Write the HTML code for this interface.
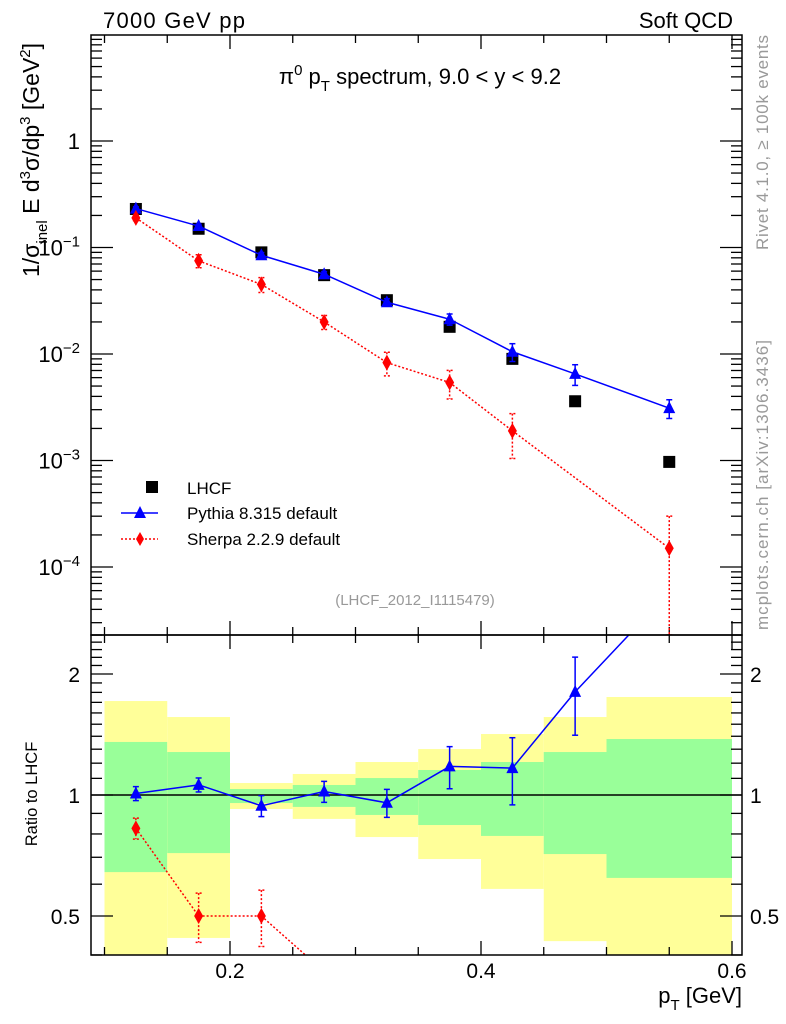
<!DOCTYPE html>
<html><head><meta charset="utf-8"><style>
html,body{margin:0;padding:0;background:#fff;overflow:hidden;width:786px;height:1024px;}
svg{display:block;font-family:"Liberation Sans",sans-serif;}
</style></head><body>
<svg id="chart" width="786" height="1024" viewBox="0 0 786 1024" xmlns="http://www.w3.org/2000/svg">
<defs>
<clipPath id="cm"><rect x="91" y="35" width="651" height="600"/></clipPath>
<clipPath id="cr"><rect x="91" y="635" width="651" height="320"/></clipPath>
</defs>
<g id="bands" clip-path="url(#cr)"></g>
<g id="ticks"></g>
<g id="marks"></g>
<rect x="91" y="35" width="651" height="600" fill="none" stroke="#000" stroke-width="1.5"/>
<rect x="91" y="635" width="651" height="320" fill="none" stroke="#000" stroke-width="1.5"/>
<text x="103" y="28" font-size="22" textLength="142">7000 GeV pp</text>
<text x="733" y="28" font-size="22" text-anchor="end">Soft QCD</text>
<text x="420" y="84" font-size="22" text-anchor="middle">π<tspan dy="-9" font-size="15">0</tspan><tspan dy="9"> p</tspan><tspan dy="7" font-size="15">T</tspan><tspan dy="-7"> spectrum, 9.0 &lt; y &lt; 9.2</tspan></text>
<text x="415" y="605" font-size="15" fill="#999" text-anchor="middle">(LHCF_2012_I1115479)</text>
<text transform="translate(768,35) rotate(-90)" font-size="17" fill="#999" text-anchor="end" textLength="215">Rivet 4.1.0, ≥ 100k events</text>
<text transform="translate(768,630) rotate(-90)" font-size="17" fill="#999" text-anchor="start" textLength="290">mcplots.cern.ch [arXiv:1306.3436]</text>
<text transform="translate(39,160) rotate(-90)" font-size="23" text-anchor="middle">1/σ<tspan dy="8" font-size="15">inel</tspan><tspan dy="-8"> E d</tspan><tspan dy="-9" font-size="15">3</tspan><tspan dy="9">σ/dp</tspan><tspan dy="-9" font-size="15">3</tspan><tspan dy="9"> [GeV</tspan><tspan dy="-9" font-size="15">2</tspan><tspan dy="9">]</tspan></text>
<text transform="translate(37,794) rotate(-90)" font-size="16.5" text-anchor="middle">Ratio to LHCF</text>
<text x="742" y="1003" font-size="22" text-anchor="end">p<tspan dy="7" font-size="15">T</tspan><tspan dy="-7"> [GeV]</tspan></text>
<g>
<rect x="146" y="481" width="12" height="12" fill="#000"/>
<text x="187" y="494" font-size="17">LHCF</text>
<line x1="121" y1="513" x2="158" y2="513" stroke="#00f" stroke-width="1.5"/>
<polygon points="140,506 146,518 134,518" fill="#00f"/>
<text x="187" y="519" font-size="17">Pythia 8.315 default</text>
<line x1="121" y1="539" x2="158" y2="539" stroke="#f00" stroke-width="1.5" stroke-dasharray="2,2"/>
<polygon points="140,532 144,539 140,546 136,539" fill="#f00"/>
<text x="187" y="545" font-size="17">Sherpa 2.2.9 default</text>
</g>
</svg>
<script>
const binLo = [0.10,0.15,0.20,0.25,0.30,0.35,0.40,0.45,0.50];
const binHi = [0.15,0.20,0.25,0.30,0.35,0.40,0.45,0.50,0.60];
const xCenters = [0.125,0.175,0.225,0.275,0.325,0.375,0.425,0.475,0.55];
const lhcf = [0.23,0.15,0.09,0.055,0.032,0.018,0.009,0.0036,0.00097];
const pythia = [0.232,0.159,0.0846,0.0561,0.0306,0.0212,0.0105,0.0065,0.0031];
const pythiaRelErr = [0.04,0.04,0.06,0.06,0.08,0.12,0.19,0.22,0.2];
const sherpa = [0.19,0.075,0.045,0.020,0.0083,0.0054,0.0019,null,0.00015];
const sherpaRelErr = [0.06,0.14,0.16,0.15,0.25,0.3,0.45,0,1.0];
const yellowHi = [1.713,1.563,1.071,1.128,1.208,1.301,1.418,1.563,1.753];
const greenHi = [1.355,1.279,1.035,1.059,1.102,1.154,1.208,1.279,1.378];
const greenLo = [0.643,0.717,0.955,0.934,0.892,0.842,0.791,0.713,0.622];
const yellowLo = [0.30,0.441,0.923,0.872,0.786,0.693,0.584,0.433,0.30];
const xTickLabels = ["0.2","0.4","0.6"];
const mainTickExps = [0,-1,-2,-3,-4];
const ratioTickLabels = ["0.5","1","2"];

const NS="http://www.w3.org/2000/svg";
const X = v => 230 + (v-0.2)*1255;
const Y = v => 141 - Math.log10(v)*106.5;
const R = v => 795 - Math.log10(v)*402;
const clampM = y => Math.max(35, Math.min(635, y));
const clampR = y => Math.max(635, Math.min(955, y));
function mk(tag, attrs, parent){const e=document.createElementNS(NS,tag);for(const k in attrs)e.setAttribute(k,attrs[k]);parent.appendChild(e);return e;}
// clip a polyline (array of [x,y]) to a y range, returning list of segments
function clipLine(pts, ymin, ymax){
  const segs=[];
  for(let i=0;i<pts.length-1;i++){
    let [x1,y1]=pts[i],[x2,y2]=pts[i+1];
    if((y1<ymin&&y2<ymin)||(y1>ymax&&y2>ymax))continue;
    const at=(yy)=>x1+(x2-x1)*(yy-y1)/(y2-y1);
    if(y1<ymin){x1=at(ymin);y1=ymin;} else if(y1>ymax){x1=at(ymax);y1=ymax;}
    const ox2=x2, oy2=y2; const [sx,sy]=pts[i];
    const at2=(yy)=>sx+(ox2-sx)*(yy-sy)/(oy2-sy);
    if(y2<ymin){x2=at2(ymin);y2=ymin;} else if(y2>ymax){x2=at2(ymax);y2=ymax;}
    segs.push([x1,y1,x2,y2]);
  }
  return segs;
}
function drawLine(g, pts, ymin, ymax, color, dash, name){
  const segs=clipLine(pts,ymin,ymax);
  const d=segs.map(s=>`M${s[0]},${s[1]}L${s[2]},${s[3]}`).join('');
  const a={d:d,fill:'none',stroke:color,'stroke-width':1.5};
  if(dash)a['stroke-dasharray']='2,2';
  const p=mk('path',a,g);
  
  
}
const bands=document.getElementById('bands'), ticks=document.getElementById('ticks'), marks=document.getElementById('marks');

for(let i=0;i<binLo.length;i++){
  const yt=R(yellowHi[i]), yb=clampR(R(yellowLo[i]));
  const y1=mk('rect',{x:X(binLo[i]),y:yt,width:X(binHi[i])-X(binLo[i]),height:yb-yt,fill:'#ffff99'},bands);
  
  
  const g1=mk('rect',{x:X(binLo[i]),y:R(greenHi[i]),width:X(binHi[i])-X(binLo[i]),height:R(greenLo[i])-R(greenHi[i]),fill:'#99ff99'},bands);
  
  
}
mk('line',{x1:91,x2:742,y1:R(1),y2:R(1),stroke:'#000','stroke-width':1.5},bands);

for(let v=0.1;v<=0.6001;v+=0.05){
  const major=Math.abs(v*10-Math.round(v*10))<1e-6 && Math.round(v*10)%2===0;
  const L=major?14:8;
  [[35,1],[635,-1],[635,1],[955,-1]].forEach(([y0,d])=>mk('line',{x1:X(v),x2:X(v),y1:y0,y2:y0+d*L,stroke:'#000','stroke-width':1.3},ticks));
}
xTickLabels.forEach(t=>{const e=mk('text',{x:X(parseFloat(t)),y:978,'font-size':21,'text-anchor':'middle'},ticks);e.textContent=t;
  
  });
for(let e=-5;e<=1;e++){for(let m=1;m<=9;m++){const v=m*Math.pow(10,e);const y=Y(v);if(y<35||y>635)continue;const L=m===1?22:11;
  mk('line',{x1:91,x2:91+L,y1:y,y2:y,stroke:'#000','stroke-width':1.3},ticks);mk('line',{x1:742,x2:742-L,y1:y,y2:y,stroke:'#000','stroke-width':1.3},ticks);}}
mainTickExps.forEach(ex=>{const t=mk('text',{x:80,y:Y(Math.pow(10,ex))+8,'font-size':22,'text-anchor':'end'},ticks);
  
  
  if(ex===0){t.textContent='1';}else{t.textContent='10';const s=document.createElementNS(NS,'tspan');s.setAttribute('dy','-9');s.setAttribute('font-size','15');s.textContent='−'+(-ex);t.appendChild(s);}});
for(let k=4;k<=25;k++){const v=k/10;const y=R(v);if(y<635||y>955)continue;const major=(k===5||k===10||k===20);const L=major?22:11;
  mk('line',{x1:91,x2:91+L,y1:y,y2:y,stroke:'#000','stroke-width':1.3},ticks);mk('line',{x1:742,x2:742-L,y1:y,y2:y,stroke:'#000','stroke-width':1.3},ticks);}
ratioTickLabels.forEach(t=>{[80,750].forEach((x,j)=>{const e=mk('text',{x:x,y:R(parseFloat(t))+8,'font-size':21,'text-anchor':j?'start':'end'},ticks);e.textContent=t;
  
  });});

const gm=mk('g',{'clip-path':'url(#cm)'},marks);
const gr=mk('g',{'clip-path':'url(#cr)'},marks);
function tri(g,x,y,c){return mk('polygon',{points:`${x},${y-7} ${x+6},${y+5} ${x-6},${y+5}`,fill:c},g);}
function dia(g,x,y,c){return mk('polygon',{points:`${x},${y-8} ${x+4.5},${y} ${x},${y+8} ${x-4.5},${y}`,fill:c},g);}
function errbar(g,x,y1,y2,c,dash,lo,hi){
  const yt=Math.max(lo,Math.min(hi,y1)), yb=Math.max(lo,Math.min(hi,y2));
  const a={x1:x,x2:x,y1:yt,y2:yb,stroke:c,'stroke-width':1.5};if(dash)a['stroke-dasharray']='2,2';mk('line',a,g);
  [y1,y2].forEach(y=>{if(y<lo||y>hi)return;const b={x1:x-3,x2:x+3,y1:y,y2:y,stroke:c,'stroke-width':1.5};if(dash)b['stroke-dasharray']='2,2';mk('line',b,g);});}

lhcf.forEach((v,i)=>{const r=mk('rect',{x:X(xCenters[i])-6,y:Y(v)-6,width:12,height:12,fill:'#000'},gm);
  
  });
drawLine(gm, pythia.map((v,i)=>[X(xCenters[i]),Y(v)]), 35, 635, '#00f', false, 'pythia-line');
pythia.forEach((v,i)=>{errbar(gm,X(xCenters[i]),Y(v*(1+pythiaRelErr[i])),Y(v*(1-pythiaRelErr[i])),'#00f',false,35,635);const p=tri(gm,X(xCenters[i]),Y(v),'#00f');
  
  });
const sIdx=sherpa.map((v,i)=>i).filter(i=>sherpa[i]!==null);
drawLine(gm, sIdx.map(i=>[X(xCenters[i]),Y(sherpa[i])]), 35, 635, '#f00', true, 'sherpa-line');
sIdx.forEach(i=>{const v=sherpa[i];const lo=v*(1-sherpaRelErr[i]);errbar(gm,X(xCenters[i]),Y(v*(1+sherpaRelErr[i])),lo>0?Y(lo):635,'#f00',true,35,635);const p=dia(gm,X(xCenters[i]),Y(v),'#f00');
  
  });

drawLine(gr, pythia.map((v,i)=>[X(xCenters[i]),R(v/lhcf[i])]), 635, 955, '#00f', false, 'pythia-ratio-line');
pythia.forEach((v,i)=>{const r=v/lhcf[i];if(R(r)<635||R(r)>955)return;errbar(gr,X(xCenters[i]),R(r*(1+pythiaRelErr[i])),R(r*(1-pythiaRelErr[i])),'#00f',false,635,955);const p=tri(gr,X(xCenters[i]),R(r),'#00f');
  
  });
drawLine(gr, sIdx.map(i=>[X(xCenters[i]),R(sherpa[i]/lhcf[i])]), 635, 955, '#f00', true, 'sherpa-ratio-line');
sIdx.forEach(i=>{const r=sherpa[i]/lhcf[i];if(R(r)<635||R(r)>955)return;const lo=r*(1-sherpaRelErr[i]);errbar(gr,X(xCenters[i]),R(r*(1+sherpaRelErr[i])),lo>0?R(lo):955,'#f00',true,635,955);const p=dia(gr,X(xCenters[i]),R(r),'#f00');
  
  });
</script>
</body></html>
